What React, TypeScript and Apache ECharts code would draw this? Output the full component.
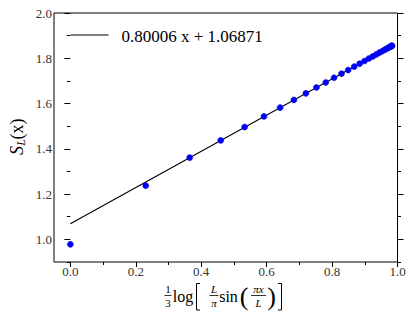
import React, { useEffect, useRef } from "react";
import * as echarts from "echarts";

const xValues = [
  0.0, 0.2304, 0.3648, 0.4597, 0.5327, 0.5918, 0.6411, 0.6833, 0.72, 0.7522,
  0.7807, 0.8061, 0.8288, 0.8493, 0.8677, 0.8843, 0.8992, 0.9126, 0.9246, 0.9353,
  0.9447, 0.9531, 0.9603, 0.9665, 0.9717, 0.9758, 0.9791, 0.9814, 0.9828, 0.9832,
];
const yValues = [
  0.978, 1.237, 1.361, 1.437, 1.496, 1.543, 1.582, 1.616, 1.645, 1.671,
  1.693, 1.714, 1.732, 1.748, 1.763, 1.776, 1.788, 1.799, 1.808, 1.817,
  1.825, 1.831, 1.837, 1.842, 1.846, 1.849, 1.852, 1.854, 1.855, 1.855,
];
const fitX = [0.0, 0.9832];
const fitY = [1.0687, 1.8553];
const fitLabel = "0.80006 x + 1.06871";
const xMajor = [0.0, 0.2, 0.4, 0.6, 0.8, 1.0];
const xMinor = [0.1, 0.3, 0.5, 0.7, 0.9];
const yMajor = [1.0, 1.2, 1.4, 1.6, 1.8, 2.0];
const yMinor = [0.9, 1.1, 1.3, 1.5, 1.7, 1.9];

const SERIF = "Liberation Serif";
const LABEL_COLOR = "#333";

export default function App() {
  const ref = useRef<HTMLDivElement>(null);
  useEffect(() => {
    document.body.style.margin = "0";
    const chart = echarts.init(ref.current!, null, { renderer: "svg" });
    const baseX = {
      type: "value" as const,
      min: -0.05,
      max: 1.0,
      gridIndex: 0,
      axisLine: { show: false },
      splitLine: { show: false },
    };
    const baseY = {
      type: "value" as const,
      min: 0.9,
      max: 2.0,
      gridIndex: 0,
      axisLine: { show: false },
      splitLine: { show: false },
    };
    const tickStyle = { color: "#000", width: 1 };
    const txt = (
      text: string,
      x: number,
      y: number,
      size: number,
      italic = false,
      rotation = 0,
      align = "center"
    ) => ({
      type: "text",
      x,
      y,
      rotation,
      style: {
        text,
        font: `${italic ? "italic " : ""}${size}px ${SERIF}`,
        fill: "#000",
        align,
        verticalAlign: "middle",
      },
    });
    const bar = (x1: number, x2: number, y: number) => ({
      type: "line",
      shape: { x1, y1: y, x2, y2: y },
      style: { stroke: "#000", lineWidth: 0.8 },
    });
    const option = {
      animation: false,
      textStyle: { fontFamily: SERIF },
      grid: {
        left: 54,
        right: 17.5,
        top: 13,
        bottom: 56,
        show: true,
        borderColor: "#000",
        borderWidth: 1,
        backgroundColor: "transparent",
      },
      xAxis: [
        {
          ...baseX,
          position: "bottom",
          axisTick: { show: true, length: 5, lineStyle: tickStyle, customValues: xMajor },
          axisLabel: {
            show: true,
            customValues: xMajor,
            formatter: (v: number) => v.toFixed(1),
            fontFamily: SERIF,
            fontSize: 13,
            color: LABEL_COLOR,
            margin: 3,
          },
        },
        {
          ...baseX,
          position: "bottom",
          axisTick: { show: true, length: 3, lineStyle: tickStyle, customValues: xMinor },
          axisLabel: { show: false },
        },
      ],
      yAxis: [
        {
          ...baseY,
          position: "left",
          axisTick: { show: true, length: 6, lineStyle: tickStyle, customValues: yMajor },
          axisLabel: {
            show: true,
            customValues: yMajor,
            formatter: (v: number) => v.toFixed(1),
            fontFamily: SERIF,
            fontSize: 13,
            color: LABEL_COLOR,
            margin: 2,
          },
        },
        {
          ...baseY,
          position: "left",
          axisTick: { show: true, length: 3.5, lineStyle: tickStyle, customValues: yMinor },
          axisLabel: { show: false },
        },
        {
          ...baseY,
          position: "right",
          axisTick: { show: true, length: 6, lineStyle: tickStyle, customValues: yMajor },
          axisLabel: { show: false },
        },
        {
          ...baseY,
          position: "right",
          axisTick: { show: true, length: 3.5, lineStyle: tickStyle, customValues: yMinor },
          axisLabel: { show: false },
        },
      ],
      series: [
        {
          type: "line",
          name: fitLabel,
          xAxisIndex: 0,
          yAxisIndex: 0,
          data: fitX.map((x, i) => [x, fitY[i]]),
          symbol: "none",
          lineStyle: { color: "#000", width: 1.1 },
          itemStyle: { color: "#000" },
          z: 2,
        },
        {
          type: "scatter",
          name: "data",
          xAxisIndex: 0,
          yAxisIndex: 0,
          data: xValues.map((x, i) => [x, yValues[i]]),
          symbol: "circle",
          symbolSize: 6,
          itemStyle: { color: "#0000ff", borderColor: "#0000cc", borderWidth: 0.5, opacity: 1 },
          z: 3,
        },
      ],
      graphic: [
        {
          type: "line",
          shape: { x1: 70.5, y1: 35, x2: 108.5, y2: 35 },
          style: { stroke: "#000", lineWidth: 1.1 },
        },
        txt(fitLabel, 121.5, 36, 17, false, 0, "left"),
        txt("S", 17, 150.5, 18, true, Math.PI / 2),
        txt("L", 21, 142.5, 12, true, Math.PI / 2),
        txt("(x)", 17, 129, 18, false, Math.PI / 2),
        txt("1", 168, 288.5, 11),
        bar(164.5, 171.5, 295.5),
        txt("3", 168, 302.5, 11),
        txt("log", 183, 296.5, 16),
        {
          type: "polyline",
          shape: { points: [[200, 283.5], [196.5, 283.5], [196.5, 310], [200, 310]] },
          style: { stroke: "#000", lineWidth: 1, fill: "none" },
        },
        txt("L", 214, 288.5, 11, true),
        bar(209.5, 218.5, 295.5),
        txt("π", 214, 302.5, 11, true),
        txt("sin", 228.5, 296.5, 16),
        txt("(", 244, 296, 26),
        txt("πx", 258.5, 288.5, 11, true),
        bar(251, 266, 295.5),
        txt("L", 258.5, 303, 11, true),
        txt(")", 271.5, 296, 26),
        {
          type: "polyline",
          shape: { points: [[278, 283.5], [281.5, 283.5], [281.5, 310], [278, 310]] },
          style: { stroke: "#000", lineWidth: 1, fill: "none" },
        },
      ],
    };
    chart.setOption(option as any);
    return () => chart.dispose();
  }, []);
  return (
    <div
      ref={ref}
      style={{ position: "fixed", left: 0, top: 0, width: 415, height: 318, background: "#fff" }}
    />
  );
}
